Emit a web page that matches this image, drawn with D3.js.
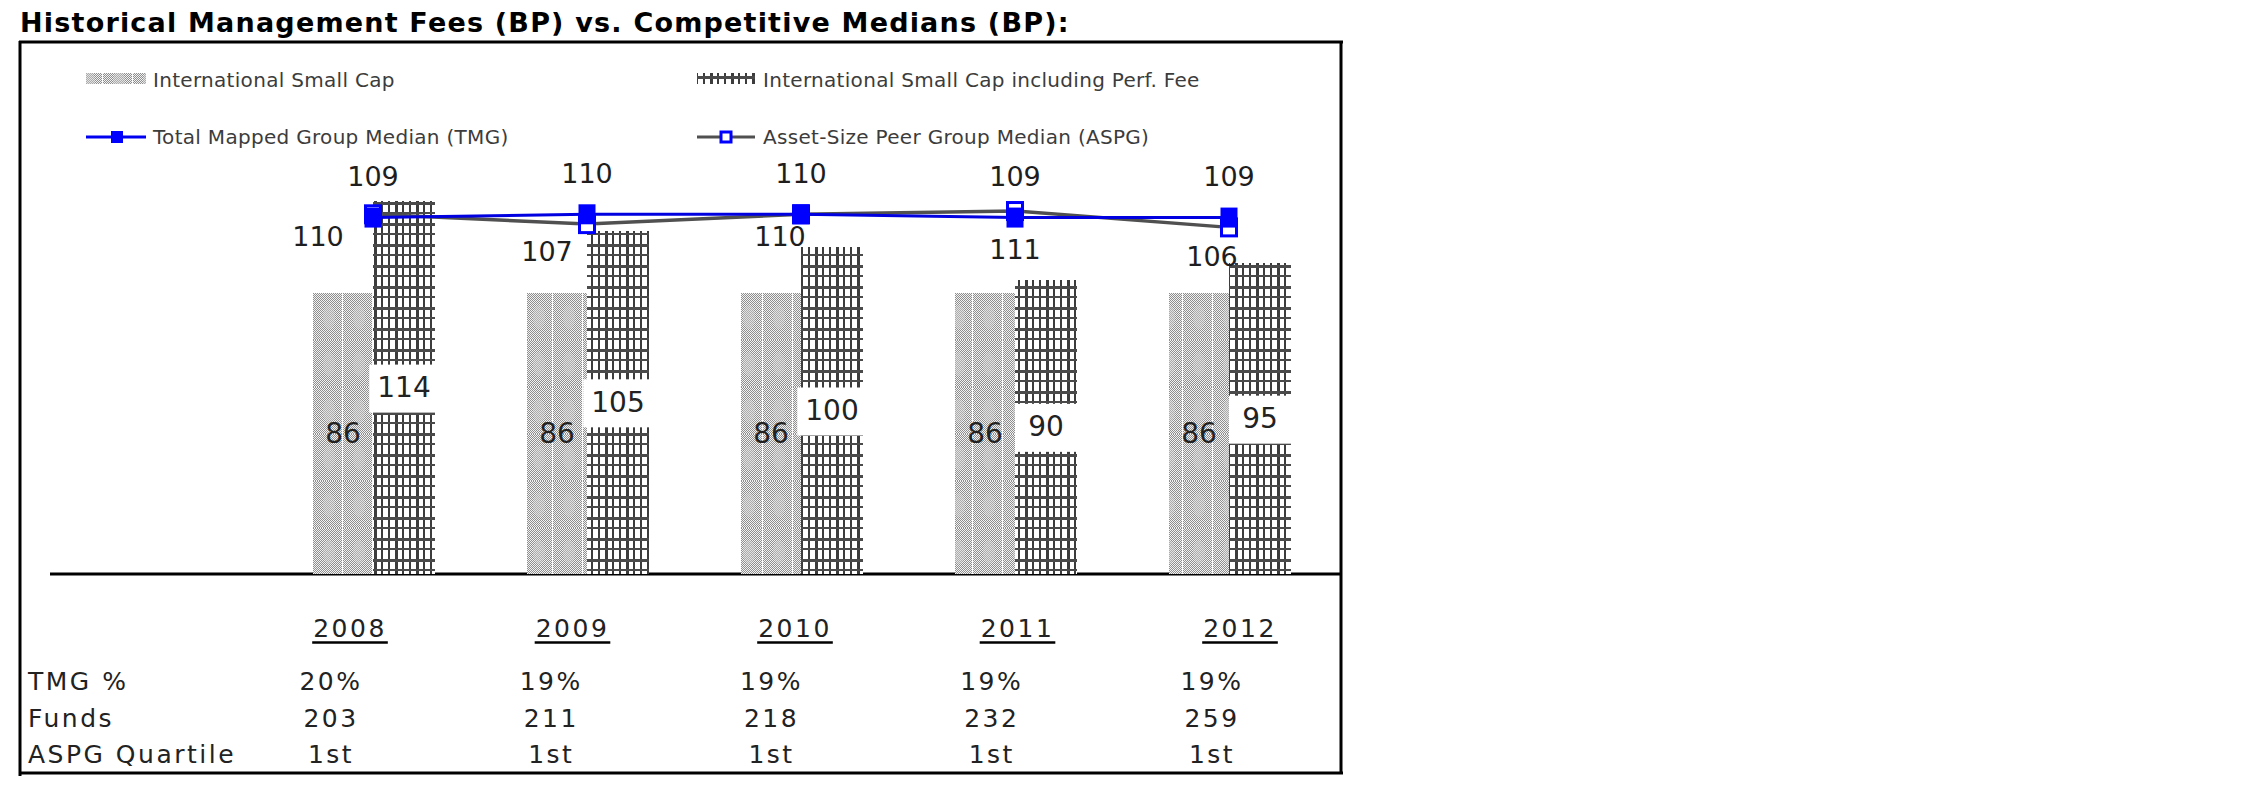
<!DOCTYPE html>
<html><head><meta charset="utf-8">
<script src="https://cdn.jsdelivr.net/npm/d3@7"></script>
<style>body{margin:0;background:#fff} svg{display:block}</style>
</head><body><svg id="c" width="2250" height="796"></svg>
<script>
// ---------------- data ----------------
const title = "Historical Management Fees (BP) vs. Competitive Medians (BP):";
const years = ["2008","2009","2010","2011","2012"];
const seriesNames = ["International Small Cap","International Small Cap including Perf. Fee","Total Mapped Group Median (TMG)","Asset-Size Peer Group Median (ASPG)"];
const intlSmallCap = [86,86,86,86,86];
const intlSmallCapPerf = [114,105,100,90,95];
const tmgMedian = [109,110,110,109,109];
const aspgMedian = [110,107,110,111,106];
const rowLabels = ["TMG %","Funds","ASPG Quartile"];
const tmgPct = ["20%","19%","19%","19%","19%"];
const funds = ["203","211","218","232","259"];
const aspgQuartile = ["1st","1st","1st","1st","1st"];

// ---------------- layout ----------------
const FONT = "DejaVu Sans, Verdana, sans-serif";
const svg = d3.select("#c");
const defs = svg.append("defs");

// patterns
const dots = defs.append("pattern").attr("id","dots").attr("patternUnits","userSpaceOnUse").attr("width",2).attr("height",2);
dots.append("rect").attr("width",2).attr("height",2).attr("fill","#f2f2f2");
dots.append("rect").attr("width",1).attr("height",1).attr("fill","#8e8e8e");
dots.append("rect").attr("x",1).attr("y",1).attr("width",1).attr("height",1).attr("fill","#8e8e8e");
const light = defs.append("pattern").attr("id","lightPat").attr("patternUnits","userSpaceOnUse")
  .attr("width",30).attr("height",47).attr("x",313).attr("y",293);
light.append("rect").attr("width",30).attr("height",47).attr("fill","url(#dots)");
light.append("ellipse").attr("cx",16).attr("cy",24).attr("rx",6).attr("ry",12).attr("fill","#cfcfcf").attr("opacity",0.45);
light.append("rect").attr("x",29).attr("width",1).attr("height",47).attr("fill","#fafafa");

const grid = defs.append("pattern").attr("id","gridPat").attr("patternUnits","userSpaceOnUse")
  .attr("width",21).attr("height",21).attr("x",373).attr("y",201);
grid.append("rect").attr("width",21).attr("height",21).attr("fill","#fff");
[[1,3],[8,2],[15,2]].forEach(([x0,w]) => grid.append("rect").attr("x",x0).attr("width",w).attr("height",21).attr("fill","#3c3c3c"));
[[1,3],[11,2]].forEach(([y0,h]) => grid.append("rect").attr("y",y0).attr("height",h).attr("width",21).attr("fill","#4a4a4a"));

// scales
const x = d3.scalePoint().domain(years).range([373, 1229]);
const y = d3.scaleLinear().domain([0, 120]).range([574, 574 - 120 * 3.27]);
const colYear = d3.scalePoint().domain(years).range([350, 1240]);
const colVal = d3.scalePoint().domain(years).range([331, 1212]);
const lightW = 60, darkW = 62;

// title
svg.append("text").attr("x",20).attr("y",32).attr("font-family",FONT).attr("font-weight","bold")
  .attr("font-size",27).attr("letter-spacing",1.2).attr("fill","#000").text(title);

// frame
const frame = svg.append("g").attr("stroke","#000").attr("stroke-width",3);
frame.append("line").attr("x1",19).attr("x2",1343).attr("y1",42).attr("y2",42);
frame.append("line").attr("x1",20).attr("x2",20).attr("y1",41).attr("y2",776);
frame.append("line").attr("x1",1341).attr("x2",1341).attr("y1",41).attr("y2",774);
frame.append("line").attr("x1",19).attr("x2",1343).attr("y1",773).attr("y2",773);
// baseline (x axis line)
svg.append("line").attr("x1",50).attr("x2",1341).attr("y1",y(0)).attr("y2",y(0)).attr("stroke","#000").attr("stroke-width",3);

// legend
const lg = svg.append("g").attr("font-family",FONT).attr("font-size",20).attr("letter-spacing",0.3).attr("fill","#3c3c3c");
lg.append("rect").attr("x",86).attr("y",73).attr("width",60).attr("height",11).attr("fill","url(#lightPat)");
lg.append("text").attr("x",153).attr("y",80).attr("dominant-baseline","central").text(seriesNames[0]);
lg.append("rect").attr("x",697).attr("y",73).attr("width",58).attr("height",11).attr("fill","url(#gridPat)");
lg.append("text").attr("x",763).attr("y",80).attr("dominant-baseline","central").text(seriesNames[1]);
lg.append("line").attr("x1",86).attr("x2",146).attr("y1",137).attr("y2",137).attr("stroke","#0000f0").attr("stroke-width",3);
lg.append("rect").attr("x",111).attr("y",131).attr("width",12).attr("height",12).attr("fill","#0000ff");
lg.append("text").attr("x",153).attr("y",137).attr("dominant-baseline","central").text(seriesNames[2]);
lg.append("line").attr("x1",697).attr("x2",755).attr("y1",137).attr("y2",137).attr("stroke","#505050").attr("stroke-width",3);
lg.append("rect").attr("x",721).attr("y",132).attr("width",10).attr("height",10).attr("fill","#fff").attr("stroke","#0000ff").attr("stroke-width",3);
lg.append("text").attr("x",763).attr("y",137).attr("dominant-baseline","central").text(seriesNames[3]);

// bars
const bars = svg.append("g").attr("shape-rendering","crispEdges");
bars.selectAll("rect.base").data(intlSmallCap).join("rect").attr("class","base")
  .attr("x",(d,i)=>x(years[i]) - lightW).attr("width",lightW)
  .attr("y",d=>y(d)).attr("height",d=>y(0)-y(d)).attr("fill","url(#lightPat)");
bars.selectAll("rect.perf").data(intlSmallCapPerf).join("rect").attr("class","perf")
  .attr("x",(d,i)=>x(years[i])).attr("width",darkW)
  .attr("y",d=>y(d)).attr("height",d=>y(0)-y(d)).attr("fill","url(#gridPat)");

// bar labels
const bl = svg.append("g").attr("font-family",FONT).attr("font-size",28).attr("fill","#222").attr("text-anchor","middle");
bl.selectAll("text.base").data(intlSmallCap).join("text").attr("class","base")
  .attr("x",(d,i)=>x(years[i]) - lightW/2).attr("y",d=>y(d/2)).attr("dominant-baseline","central").text(d=>d);
intlSmallCapPerf.forEach((d,i) => {
  const cx = x(years[i]) + darkW/2, cy = y(d/2);
  const g = bl.append("g");
  const box = g.append("rect").attr("fill","#fff");
  const t = g.append("text").attr("x",cx).attr("y",cy).attr("dominant-baseline","central").text(d);
  const tw = t.node().getComputedTextLength();
  const right = x(years[i]) + darkW;
  const left = Math.min(x(years[i]), cx - tw/2 - 8);
  box.attr("x",left).attr("width",right-left).attr("y",cy-23).attr("height",48);
});

// lines
const line = d3.line().x((d,i)=>x(years[i])).y(d=>y(d));
svg.append("path").datum(aspgMedian).attr("d",line).attr("fill","none").attr("stroke","#505050").attr("stroke-width",3.5);
svg.append("path").datum(tmgMedian).attr("d",line).attr("fill","none").attr("stroke","#0000e0").attr("stroke-width",3);
svg.append("g").selectAll("rect").data(aspgMedian).join("rect")
  .attr("x",(d,i)=>x(years[i]) - 7.5).attr("y",d=>y(d) - 8.5).attr("width",15).attr("height",17)
  .attr("fill","#fff").attr("stroke","#0000ff").attr("stroke-width",3);
svg.append("g").selectAll("rect").data(tmgMedian).join("rect")
  .attr("x",(d,i)=>x(years[i]) - 8.5).attr("y",d=>y(d) - 10).attr("width",17).attr("height",20)
  .attr("fill","#0000ff");

// line labels
const ll = svg.append("g").attr("font-family",FONT).attr("font-size",27).attr("fill","#1e1e1e").attr("text-anchor","middle").attr("dominant-baseline","central");
ll.selectAll("text.tmg").data(tmgMedian).join("text").attr("class","tmg")
  .attr("x",(d,i)=>x(years[i])).attr("y",d=>y(d) - 41).text(d=>d);
const aspgNudge = [[-55,22],[-40,27],[-21,22],[0,38],[-17,29]];
ll.selectAll("text.aspg").data(aspgMedian).join("text").attr("class","aspg")
  .attr("x",(d,i)=>x(years[i]) + aspgNudge[i][0]).attr("y",(d,i)=>y(d) + aspgNudge[i][1]).text(d=>d);

// table
const tb = svg.append("g").attr("font-family",FONT).attr("font-size",25).attr("fill","#222").attr("letter-spacing",2.5);
years.forEach(yr => {
  const t = tb.append("text").attr("x",colYear(yr)).attr("y",637).attr("text-anchor","middle").text(yr);
  const w = t.node().getComputedTextLength();
  tb.append("line").attr("x1",colYear(yr)-w/2-1).attr("x2",colYear(yr)+w/2+1).attr("y1",642.5).attr("y2",642.5)
    .attr("stroke","#000").attr("stroke-width",2.5);
});
const rows = [tmgPct, funds, aspgQuartile];
const rowY = [690, 727, 763];
rows.forEach((r, k) => {
  tb.append("text").attr("x",28).attr("y",rowY[k]).text(rowLabels[k]);
  r.forEach((v, i) => tb.append("text").attr("x",colVal(years[i])).attr("y",rowY[k]).attr("text-anchor","middle").text(v));
});
</script></body></html>
